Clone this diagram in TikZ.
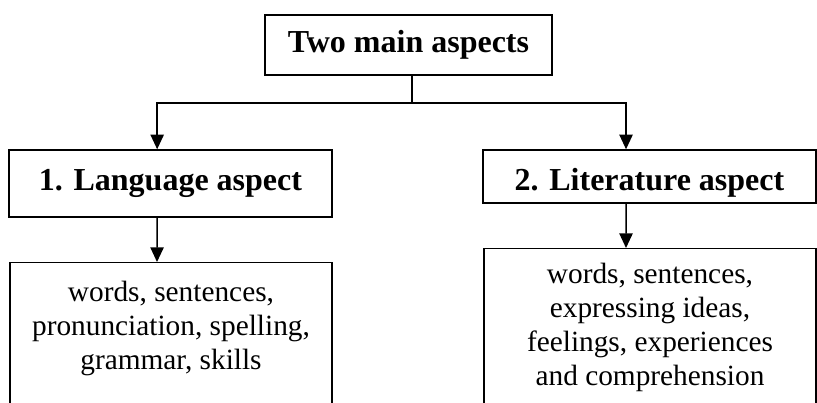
\documentclass[tikz,border=0pt]{standalone}
\usepackage{fontspec}
\setmainfont{Liberation Serif}
\usepackage{tikz}
\usetikzlibrary{arrows.meta}

\begin{document}
\begin{tikzpicture}[x=0.75pt,y=-0.75pt,head/.style={draw,line width=1.1pt,align=center,font=\fontsize{24}{28}\selectfont\bfseries,inner sep=0pt},items/.style={draw,line width=1.1pt,anchor=north,align=center,font=\fontsize{22}{25.5}\selectfont,inner xsep=0pt,inner ysep=13.5pt,text depth=140pt},link/.style={line width=1.1pt},edge/.style={-{Triangle[length=11pt,width=10pt]},line width=1.1pt}]
\useasboundingbox (0,0) rectangle (817,403);
\clip (0,0) rectangle (817,403);
\node[head,minimum width=215.25pt,minimum height=45pt] (main) at (408.5,45) {Two main aspects};
\node[head,minimum width=242.25pt,minimum height=50.25pt] (lang) at (170.5,183.5) {1. Language aspect};
\node[head,minimum width=249.75pt,minimum height=39.75pt,text height=26pt,text depth=5pt] (lit) at (649.5,176.5) {2. Literature aspect};
\node[items,minimum width=241.5pt] (langitems) at (171,262) {words, sentences,\\pronunciation, spelling,\\grammar, skills};
\node[items,minimum width=249pt,inner ysep=11pt] (lititems) at (650,248) {words, sentences,\\expressing ideas,\\feelings, experiences\\and comprehension};
\coordinate (split) at (412,103);
\draw[link] (main.south -| split) -- (split);
\draw[edge] (split) -| ([xshift=-10pt]lang.north);
\draw[edge] (split) -| ([xshift=-17.6pt]lit.north);
\draw[edge] ([xshift=-10pt]lang.south) -- ([xshift=-10.5pt]langitems.north);
\draw[edge] ([xshift=-17.6pt]lit.south) -- ([xshift=-18pt]lititems.north);
\end{tikzpicture}
\end{document}
